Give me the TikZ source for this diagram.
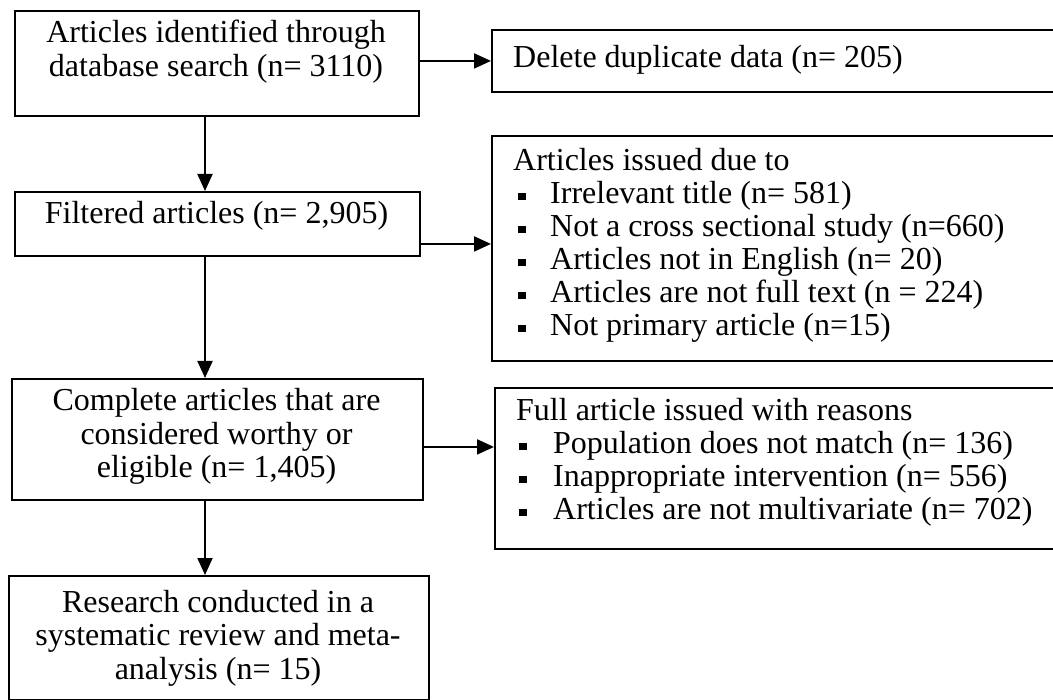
\documentclass[tikz,border=0pt]{standalone}
\usepackage{fontspec}
\setmainfont{Liberation Serif}
\usetikzlibrary{arrows.meta}
\newcommand\blt[1]{\makebox[37pt][l]{\hspace{#1}\rule[3.5pt]{7.5pt}{7.5pt}}}
\begin{document}
\begin{tikzpicture}[x=1pt,y=-1pt,
  box/.style={draw=black,line width=1.9pt,inner sep=0pt,anchor=north west},
  ctext/.style={inner sep=0pt,anchor=base,font=\fontsize{32}{33.5}\selectfont},
  ltext/.style={inner sep=0pt,anchor=base west,font=\fontsize{32}{33.5}\selectfont},
  arr/.style={line width=2pt,-{Triangle[length=17pt,width=15pt]}}]
\useasboundingbox (0,0) rectangle (1053,700);
\clip (0,0) rectangle (1053,700);
% boxes
\node[box,minimum width=404pt,minimum height=105pt] (b1) at (14,10) {};
\node[box,minimum width=580pt,minimum height=62pt] (del) at (491,29) {};
\node[box,minimum width=405pt,minimum height=64pt] (b2) at (14,191) {};
\node[box,minimum width=580pt,minimum height=225pt] (arts) at (491,135) {};
\node[box,minimum width=411pt,minimum height=121pt] (b3) at (11,378) {};
\node[box,minimum width=580pt,minimum height=161pt] (full) at (494,387) {};
\node[box,minimum width=420pt,minimum height=124pt] (b4) at (8,575) {};
% texts
\node[ctext] (t1a) at (216,43) {Articles identified through};
\node[ctext] (t1b) at (216,76.5) {database search (n= 3110)};
\node[ltext] (tdel) at (513,68) {Delete duplicate data (n= 205)};
\node[ctext] (t2) at (216.5,224) {Filtered articles (n= 2,905)};
\node[ltext] (ta0) at (513,171) {Articles issued due to};
\node[ltext] (ta1) at (513,204) {\blt{5pt}Irrelevant title (n= 581)};
\node[ltext] (ta2) at (513,237) {\blt{5pt}Not a cross sectional study (n=660)};
\node[ltext] (ta3) at (513,270) {\blt{5pt}Articles not in English (n= 20)};
\node[ltext] (ta4) at (513,303) {\blt{5pt}Articles are not full text (n = 224)};
\node[ltext] (ta5) at (513,336) {\blt{5pt}Not primary article (n=15)};
\node[ctext] (t3a) at (216.5,411) {Complete articles that are};
\node[ctext] (t3b) at (216.5,444.5) {considered worthy or};
\node[ctext] (t3c) at (216.5,478) {eligible (n= 1,405)};
\node[ltext] (tf0) at (516,421) {Full article issued with reasons};
\node[ltext] (tf1) at (516,454) {\blt{3pt}Population does not match (n= 136)};
\node[ltext] (tf2) at (516,487) {\blt{3pt}Inappropriate intervention (n= 556)};
\node[ltext] (tf3) at (516,520) {\blt{3pt}Articles are not multivariate (n= 702)};
\node[ctext] (t4a) at (218,612) {Research conducted in a};
\node[ctext] (t4b) at (218,645.5) {systematic review and meta-};
\node[ctext] (t4c) at (218,679) {analysis (n= 15)};
% connectors
\coordinate (ax) at (205,0);
\draw[arr] (b1.east |- del.west) -- (del.west);
\draw[arr] ([yshift=-20pt]b2.east) coordinate (a2) -- (a2 -| arts.west);
\draw[arr] ([yshift=-7.5pt]b3.east) coordinate (a3) -- (a3 -| full.west);
\draw[arr] (b1.south -| ax) -- (b2.north -| ax);
\draw[arr] (b2.south -| ax) -- (b3.north -| ax);
\draw[arr] (b3.south -| ax) -- (b4.north -| ax);
\end{tikzpicture}
\end{document}
